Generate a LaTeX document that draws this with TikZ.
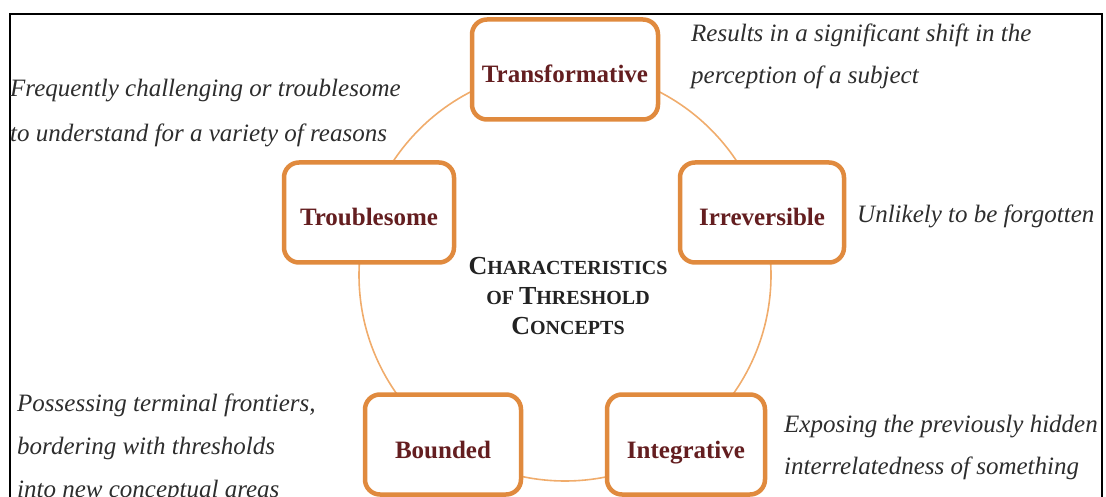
\documentclass[tikz,border=0pt]{standalone}
\usepackage{fontspec}
\setmainfont{Liberation Serif}
\definecolor{boxline}{RGB}{224,138,62}
\definecolor{ringline}{RGB}{240,172,108}
\definecolor{boxtext}{RGB}{100,30,32}
\definecolor{desctext}{RGB}{45,45,45}
\definecolor{titletext}{RGB}{34,34,34}
% leading capital of a hand-made small-caps word
\newcommand{\sclead}[1]{{\fontsize{26}{30}\selectfont #1}}
\begin{document}
\begin{tikzpicture}[x=1pt,y=-1pt,
  conceptbox/.style={draw=boxline, line width=4.5pt, rounded corners=15pt,
    fill=white, minimum height=100pt, inner sep=0pt, text=boxtext,
    font=\fontsize{25}{30}\selectfont\bfseries, text height=27pt, text depth=0pt},
  desc/.style={anchor=base west, align=left, inner sep=0pt, text=desctext},
  ring/.style={draw=ringline, line width=1.6pt},
  frame/.style={draw=black, line width=2pt}
]
\useasboundingbox (0,0) rectangle (1106,497);

% outer frame, bottom edge lies below the page
\draw[frame] (10,14) rectangle (1102,540);

% ring through the five concepts
\coordinate (hub) at (565,275);
\draw[ring] (hub) circle[radius=206pt];

% the five characteristics
\node[conceptbox, minimum width=186pt] (transformative) at (565,69.5) {Transformative};
\node[conceptbox, minimum width=170pt] (troublesome) at (369,212.5) {Troublesome};
\node[conceptbox, minimum width=164pt] (irreversible) at (762,212.5) {Irreversible};
\node[conceptbox, minimum width=156pt] (bounded) at (443,444.5) {Bounded};
\node[conceptbox, minimum width=158pt] (integrative) at (686,444.5) {Integrative};

% centre title (anchored on the baseline of its last line)
\node[anchor=base, align=center, inner sep=0pt, text=titletext,
      font=\fontsize{20}{30}\selectfont\bfseries] (title) at (568,334)
  {\sclead{C}HARACTERISTICS\\ OF \sclead{T}HRESHOLD\\ \sclead{C}ONCEPTS};

% descriptions (anchored on the baseline of their last line)
\node[desc, font=\fontsize{25}{45}\selectfont\itshape] (troublesome-desc) at (10,142)
  {Frequently challenging or troublesome\\ to understand for a variety of reasons};
\node[desc, font=\fontsize{25}{42}\selectfont\itshape] (transformative-desc) at (691,84)
  {Results in a significant shift in the\\ perception of a subject};
\node[desc, font=\fontsize{25}{42}\selectfont\itshape] (irreversible-desc) at (857,223)
  {Unlikely to be forgotten};
\node[desc, font=\fontsize{25}{43}\selectfont\itshape] (bounded-desc) at (17,497)
  {Possessing terminal frontiers,\\ bordering with thresholds\\ into new conceptual areas};
\node[desc, font=\fontsize{25}{42}\selectfont\itshape] (integrative-desc) at (784,474)
  {Exposing the previously hidden\\ interrelatedness of something};
\end{tikzpicture}
\end{document}
